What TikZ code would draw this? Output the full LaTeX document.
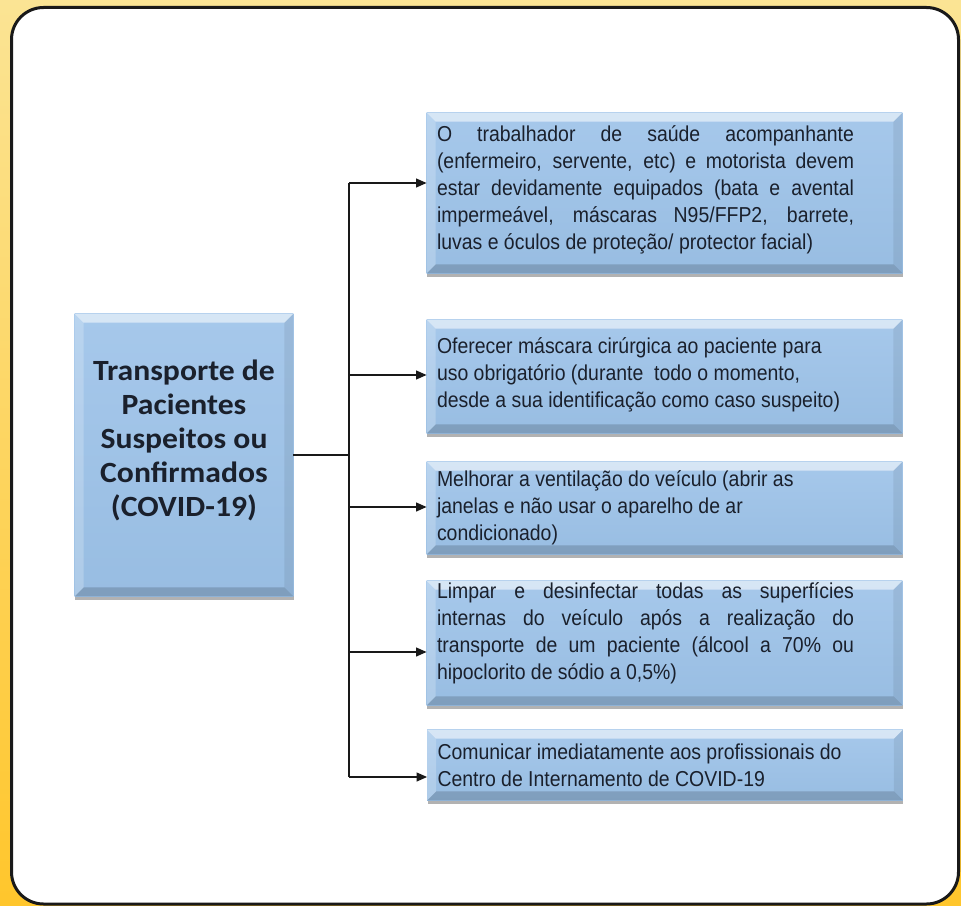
\documentclass[tikz,border=0pt]{standalone}
\usepackage{fontspec}
\newfontfamily\boxfont{Liberation Sans}[FakeStretch=0.9]
\newfontfamily\leadfont{Carlito}[FakeStretch=1.08]
\usetikzlibrary{calc,arrows.meta,shadows,backgrounds}
\definecolor{boxblue}{RGB}{152,189,226}
\definecolor{boxbluetop}{RGB}{166,200,235}
\definecolor{inkdark}{RGB}{26,32,44}
\definecolor{frameyellow}{RGB}{251,228,148}
\definecolor{frameorange}{RGB}{255,198,44}
% text of a box: optional lift, justified (full) or ragged
\newcommand\fulltext[2][0pt]{\raisebox{#1}[\height][\depth]{\parbox{341.25pt}{\rightskip=28.5pt\relax #2}}}
\newcommand\raggedtext[2][0pt]{\raisebox{#1}[\height][\depth]{\parbox{341.25pt}{\raggedright #2}}}
\tikzset{
  stepbox/.style={inner xsep=7.5pt, inner ysep=0pt, minimum width=356.25pt,
    font=\boxfont\fontsize{16.2}{20.25}\selectfont, text=inkdark},
  leadbox/.style={inner sep=0pt, minimum width=163.5pt, minimum height=211.5pt,
    font=\leadfont\bfseries\fontsize{22}{25.5}\selectfont, text=inkdark},
  link/.style={line width=1.6pt, draw=black!90},
  linkarrow/.style={link, -{Triangle[length=8pt,width=6.5pt]}}
}

\begin{document}
\begin{tikzpicture}[x=0.75pt, y=-0.75pt]
  \useasboundingbox (0,0) rectangle (961,906);

  % main box and the five measures
  \node[leadbox] (lead) at (184,455) {\raisebox{11pt}[\height][\depth]{\parbox{160pt}{\centering
    Transporte de\\ Pacientes\\ Suspeitos ou\\ Confirmados\\ (COVID-19)}}};

  \node[stepbox, minimum height=120pt] (care) at (664.5,193)
    {\fulltext[2.25pt]{O trabalhador de saúde acompanhante\linebreak
     (enfermeiro, servente, etc) e motorista devem\linebreak
     estar devidamente equipados (bata e avental\linebreak
     impermeável, máscaras N95/FFP2, barrete,\linebreak
     luvas e óculos de proteção/ protector facial)}};
  \node[stepbox, minimum height=84.75pt] (mask) at (664.5,376.5)
    {\raggedtext[1.5pt]{Oferecer máscara cirúrgica ao paciente para\\
     uso obrigatório (durante\ \ todo o momento,\\
     desde a sua identificação como caso suspeito)}};
  \node[stepbox, minimum height=69pt] (air) at (664.5,508)
    {\raggedtext{Melhorar a ventilação do veículo (abrir as\\
     janelas e não usar o aparelho de ar\\
     condicionado)}};
  \node[stepbox, minimum height=93pt] (clean) at (664.5,643)
    {\fulltext[7.5pt]{Limpar e desinfectar todas as superfícies\linebreak
     internas do veículo após a realização do\linebreak
     transporte de um paciente (álcool a 70\% ou\linebreak
     hipoclorito de sódio a 0,5\%)}};
  \node[stepbox, minimum height=52.5pt] (notify) at (665,765)
    {\raggedtext{Comunicar imediatamente aos profissionais do\\
     Centro de Internamento de COVID-19}};

  % connectors
  \coordinate (t1) at (349,183);
  \coordinate (t2) at (349,375);
  \coordinate (t3) at (349,507);
  \coordinate (t4) at (349,652);
  \coordinate (t5) at (349,777);

  \draw[link] (t1) -- (t5);
  \draw[link] (lead.east) -- (lead.east -| t1);
  \draw[linkarrow] (t1) -- (t1 -| care.west);
  \draw[linkarrow] (t2) -- (t2 -| mask.west);
  \draw[linkarrow] (t3) -- (t3 -| air.west);
  \draw[linkarrow] (t4) -- (t4 -| clean.west);
  \draw[linkarrow] (t5) -- (t5 -| notify.west);

  \begin{scope}[on background layer]
    \fill[top color=frameyellow, bottom color=frameorange] (0,0) rectangle (961,906);
    \filldraw[fill=white, draw=black!90, line width=2.25pt, rounded corners=24pt]
      (11.5,7.5) rectangle (958.5,904);
    % bevelled boxes
    \foreach \n in {lead,care,mask,air,clean,notify} {
      \fill[top color=boxbluetop, bottom color=boxblue,
        drop shadow={shadow xshift=0.5pt, shadow yshift=-2.5pt, fill=black!50, opacity=0.6}]
        (\n.north west) rectangle (\n.south east);
      \fill[white, opacity=0.55] (\n.north west) -- (\n.north east)
        -- ($(\n.north east)+(-9,9)$) -- ($(\n.north west)+(9,9)$) -- cycle;
      \fill[white, opacity=0.22] (\n.north west) -- ($(\n.north west)+(9,9)$)
        -- ($(\n.south west)+(9,-9)$) -- (\n.south west) -- cycle;
      \fill[black, opacity=0.16] (\n.south west) -- ($(\n.south west)+(9,-9)$)
        -- ($(\n.south east)+(-9,-9)$) -- (\n.south east) -- cycle;
      \fill[black, opacity=0.07] (\n.north east) -- (\n.south east)
        -- ($(\n.south east)+(-9,-9)$) -- ($(\n.north east)+(-9,9)$) -- cycle;
    }
  \end{scope}
\end{tikzpicture}
\end{document}
